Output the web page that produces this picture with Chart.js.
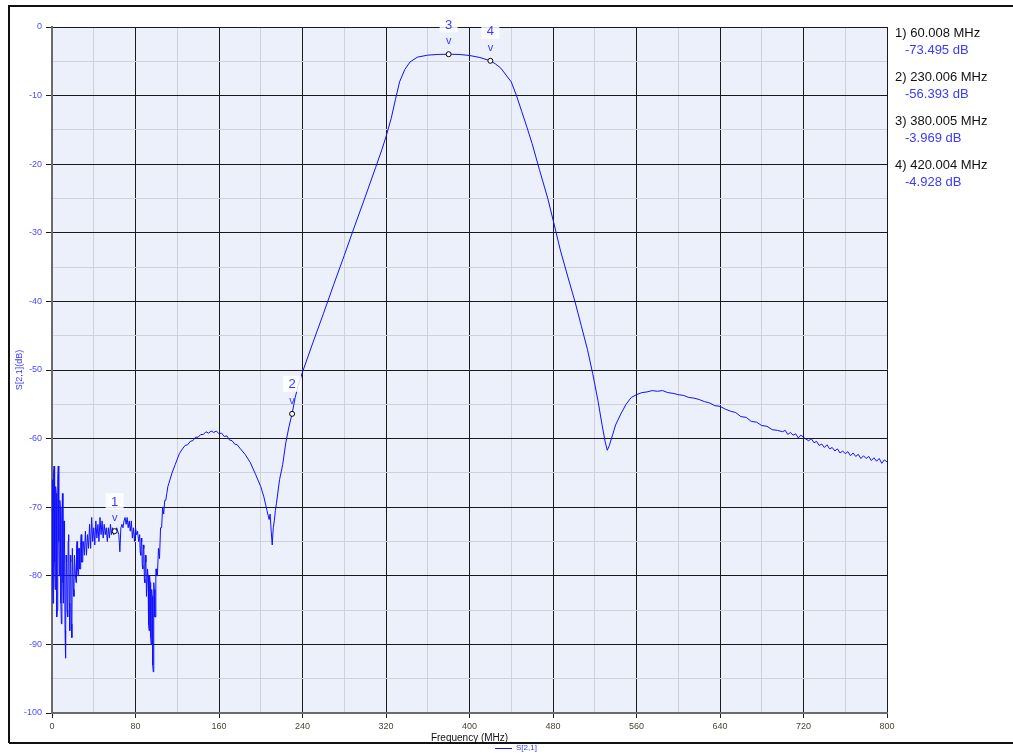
<!DOCTYPE html>
<html>
<head>
<meta charset="utf-8">
<script src="https://cdn.jsdelivr.net/npm/chart.js@4.4.1/dist/chart.umd.min.js"></script>
<style>
html,body{margin:0;padding:0;background:#fff;}
#wrap{width:1013px;height:753px;position:relative;}
</style>
</head>
<body>
<div id="wrap"><canvas id="c" width="1013" height="753"></canvas></div>
<script>
// ---- data, in frequency segments ----
// 0–30 MHz, noisy floor
const freqA = [0,0.5,1,1.5,2,2.5,3,3.5,4,4.5,5,5.5,6,6.5,7,7.5,8,8.5,9,9.5,10,10.5,11,11.5,12,12.5,13,13.5,14,14.5,
               15,15.5,16,16.5,17,17.5,18,18.5,19,19.5,20,20.5,21,21.5,22,22.5,23,23.5,24,24.5,25,25.5,26,26.5,27,27.5,28,28.5,29,29.5,30];
const dbA   = [-66,-80,-84,-65,-64,-78,-82,-67,-68,-86,-85,-66,-64,-75,-80,-69,-70,-84,-87,-72,-68,-81,-84,-72,-75,-88,-92,-77,-78,-85,
               -86,-75,-74,-84,-88,-77,-78,-87,-89,-76,-76,-82,-83,-77,-77,-80,-81,-76,-75,-79,-80,-76,-76,-79,-79,-75,-74,-78,-78,-75,-75];
// 31–83 MHz
const freqB = [31,32,33,34,35,36,37,38,39,40,41,42,43,44,45,46,47,48,49,50,51,52,53,54,55,56,57,58,59,60,
               61,62,63,64,65,66,67,68,69,70,71,72,73,74,75,76,77,78,79,80,81,82,83];
const dbB   = [-77,-73.5,-77,-74,-76,-72.5,-76,-71.5,-75,-73,-75.5,-72,-74.5,-72.5,-75,-71.5,-74,-72,-74.5,-72.5,-74,-73,-75,-73,-74.5,-72.5,-74,-73,-74,-73.5,
               -73.5,-73,-73.5,-74,-76.5,-73,-72.5,-73,-72,-71.5,-72.5,-71.5,-73,-72,-73.5,-72,-74.5,-73,-75,-73,-74,-73.5,-75];
// 84–101 MHz, first notch
const freqC = [84,84.5,85,85.5,86,86.5,87,87.5,88,88.5,89,89.5,90,90.5,91,91.5,92,92.5,93,93.5,94,94.5,95,95.5,96,96.5,97,97.5,98,98.5,99,99.5,100,100.5,101];
const dbC   = [-74,-76.5,-77,-74.5,-75,-78.5,-79,-75.5,-76,-80.5,-81,-77,-78,-83,-83,-79,-80,-87,-88,-80,-81,-89,-90,-82,-83,-93,-94,-81,-82,-86,-86,-79,-79,-80,-80];
// 102–240 MHz, lower lobe and second notch
const freqD = [102,103,104,105,106,107,108,109,110,111,112,115,118,120,122,
               125,127.5,130,132.5,135,137.5,140,142.5,145,147.5,150,152.5,155,157.5,160,162.5,165,167.5,170,172.5,175,177.5,180,
               185,190,195,200,203,206,208,209,210,211,212,213,214,215,218,221,224,227,230,233,236,240];
const dbD   = [-76,-77.5,-73,-73,-70,-71,-69,-69,-68,-67,-66.5,-65,-63.8,-63,-62.2,
               -61.5,-61.0,-60.9,-60.4,-60.3,-59.8,-59.8,-59.4,-59.4,-59.0,-59.2,-58.9,-59.1,-58.9,-59.3,-59.2,-59.7,-59.6,-60.2,-60.3,-60.8,-60.9,-61.4,
               -62.3,-63.5,-65.2,-67,-68.5,-70.5,-71.8,-71,-73.5,-75.5,-73,-72,-70.5,-69.5,-66,-63.8,-60.6,-58.3,-56.4,-54,-52.2,-50.3];
// 250–555 MHz, passband and upper notch
const freqE = [250,260,270,280,290,300,310,316,320,325,329,333,338,343,350,360,370,380,390,400,410,420,425,430,435,
               440,445,450,455,460,467,475,481,487,494,501,507,513,518,523,527,530,532,534,537,540,545,550,555];
const dbE   = [-46,-41.8,-37.5,-33.3,-29,-24.8,-20.5,-17.9,-16,-13.3,-10.6,-8,-6.2,-5.1,-4.4,-4.1,-4.0,-3.97,-4.0,-4.15,-4.45,-4.93,-5.4,-6,-7,
               -8,-10,-12.3,-14.6,-17,-20.8,-25,-28.7,-32.5,-36.3,-40,-43.5,-47,-50.5,-54.4,-58,-60.5,-61.7,-61,-59.5,-58,-56.4,-55,-54];
// 560–695 MHz, upper lobe
const freqF = [560,565,570,575,580,585,590,595,600,605,610,615,620,625,630,635,640,645,650,655,660,665,670,675,680,685,690,695];
const dbF   = [-53.6,-53.3,-53.2,-53.0,-53.1,-53.0,-53.3,-53.4,-53.6,-53.7,-54.0,-54.1,-54.3,-54.6,-54.8,-55.2,-55.3,-55.7,-56.0,-56.2,-56.8,-56.9,-57.5,-57.6,-58.1,-58.2,-58.7,-58.8];
// 700–800 MHz, noisy tail
const freqG = [700,702.5,705,707.5,710,712.5,715,717.5,720,722.5,725,727.5,730,732.5,735,737.5,740,742.5,745,747.5,
               750,752.5,755,757.5,760,762.5,765,767.5,770,772.5,775,777.5,780,782.5,785,787.5,790,792.5,795,797.5,800];
const dbG   = [-59.0,-58.8,-59.4,-59.1,-59.5,-59.3,-59.9,-59.5,-59.8,-60.1,-60.3,-60.0,-60.6,-60.4,-61.0,-60.8,-61.3,-60.9,-61.5,-61.3,
               -61.8,-61.5,-62.1,-61.8,-62.2,-61.9,-62.5,-62.1,-62.6,-62.3,-62.9,-62.5,-62.9,-62.6,-63.2,-62.8,-63.3,-62.9,-63.6,-63.1,-63.4];

const markerNum  = ['1','2','3','4'];
const markerFreq = [60.008, 230.006, 380.005, 420.004];
const markerDb   = [-73.495, -56.393, -3.969, -4.928];
const markerFreqText = ['60.008 MHz','230.006 MHz','380.005 MHz','420.004 MHz'];
const markerDbText   = ['-73.495 dB','-56.393 dB','-3.969 dB','-4.928 dB'];

const xTicksMajor = [0,80,160,240,320,400,480,560,640,720,800];
const yTicksMajor = [0,-10,-20,-30,-40,-50,-60,-70,-80,-90,-100];
const seriesName = 'S[2,1]';
const yTitle = 'S[2,1](dB)';
const xTitle = 'Frequency (MHz)';

// ---- build chart ----
const freqMHz = [...freqA,...freqB,...freqC,...freqD,...freqE,...freqF,...freqG];
const s21dB   = [...dbA,...dbB,...dbC,...dbD,...dbE,...dbF,...dbG];
const tracePts = freqMHz.map((f,i)=>({x:f,y:s21dB[i]}));
const markerPts = markerFreq.map((f,i)=>({x:f,y:markerDb[i]}));
const TRACE = '#1010ff';
const BLUE_TXT = '#3a3aff';

const decor = {
  id:'decor',
  beforeDraw(chart){
    const {ctx, chartArea:a} = chart;
    ctx.save();
    ctx.fillStyle='#ebf0fb';
    ctx.fillRect(a.left,a.top,a.right-a.left,a.bottom-a.top);
    ctx.restore();
  },
  afterDraw(chart){
    const {ctx, chartArea:a} = chart;
    const xs = chart.scales.x, ys = chart.scales.y;
    ctx.save();
    // outer frame
    ctx.strokeStyle='#111'; ctx.lineWidth=2;
    ctx.beginPath();
    ctx.moveTo(9,743); ctx.lineTo(9,6); ctx.lineTo(1013,6);
    ctx.moveTo(9,743); ctx.lineTo(1013,743);
    ctx.stroke();
    // y title
    ctx.save();
    ctx.translate(20,370); ctx.rotate(-Math.PI/2);
    ctx.fillStyle=BLUE_TXT; ctx.font='9px "Liberation Sans", Arial, sans-serif';
    ctx.textAlign='center'; ctx.textBaseline='middle';
    ctx.fillText(yTitle,0,0);
    ctx.restore();
    // x title
    ctx.fillStyle='#111'; ctx.font='10px "Liberation Sans", Arial, sans-serif';
    ctx.textAlign='center'; ctx.textBaseline='middle';
    ctx.fillText(xTitle,(a.left+a.right)/2,738);
    // bottom legend
    ctx.strokeStyle=TRACE; ctx.lineWidth=1;
    ctx.beginPath(); ctx.moveTo(495,748.5); ctx.lineTo(512,748.5); ctx.stroke();
    ctx.fillStyle=BLUE_TXT; ctx.font='8px "Liberation Sans", Arial, sans-serif';
    ctx.textAlign='left'; ctx.fillText(seriesName,516,748);
    // right marker table
    ctx.textBaseline='middle';
    for(let i=0;i<markerNum.length;i++){
      const y0 = 33 + i*44;
      ctx.fillStyle='#111'; ctx.font='13px "Liberation Sans", Arial, sans-serif';
      ctx.fillText(markerNum[i]+') '+markerFreqText[i],895,y0);
      ctx.fillStyle=BLUE_TXT;
      ctx.fillText(markerDbText[i],905,y0+17);
    }
    // marker labels
    ctx.textAlign='center';
    for(let i=0;i<markerNum.length;i++){
      const px = xs.getPixelForValue(markerFreq[i]);
      const py = ys.getPixelForValue(markerDb[i]);
      ctx.font='13px "Liberation Sans", Arial, sans-serif';
      ctx.fillStyle='rgba(255,255,255,0.85)';
      ctx.fillRect(px-9,py-38,18,16);
      ctx.fillStyle=BLUE_TXT;
      ctx.fillText(markerNum[i],px,py-29);
      ctx.font='11px "Liberation Sans", Arial, sans-serif';
      ctx.fillText('v',px,py-13);
    }
    ctx.restore();
  }
};

new Chart(document.getElementById('c'),{
  type:'line',
  data:{datasets:[
    {label:seriesName,data:tracePts,borderColor:TRACE,borderWidth:1,pointRadius:0,tension:0,order:2},
    {label:'markers',data:markerPts,showLine:false,pointRadius:2.5,pointBackgroundColor:'#fff',
     pointBorderColor:'#000',pointBorderWidth:1,order:1}
  ]},
  options:{
    responsive:false,animation:false,events:[],
    layout:{padding:{left:0,top:27,right:126,bottom:0}},
    plugins:{legend:{display:false},tooltip:{enabled:false}},
    scales:{
      x:{type:'linear',min:0,max:800,
        afterFit(s){s.height=40;},
        afterBuildTicks(s){s.ticks=[0,40,80,120,160,200,240,280,320,360,400,440,480,520,560,600,640,680,720,760,800].map(v=>({value:v}));},
        ticks:{autoSkip:false,maxRotation:0,color:'#4a4634',font:{size:9,family:'"Liberation Sans", Arial'},padding:3,
          callback:(v)=>xTicksMajor.includes(v)?String(v):''},
        grid:{color:(c)=>xTicksMajor.includes(c.tick.value)?'#1a1a1a':'#cfd2d8',
          tickColor:(c)=>xTicksMajor.includes(c.tick.value)?'#1a1a1a':'rgba(0,0,0,0)',tickLength:5,lineWidth:1},
        border:{color:'#6b6b6b',width:2}
      },
      y:{type:'linear',min:-100,max:0,
        afterFit(s){s.width=52;},
        afterBuildTicks(s){s.ticks=[-100,-95,-90,-85,-80,-75,-70,-65,-60,-55,-50,-45,-40,-35,-30,-25,-20,-15,-10,-5,0].map(v=>({value:v}));},
        ticks:{autoSkip:false,color:'#4b4bff',font:{size:9,family:'"Liberation Sans", Arial'},padding:4,
          callback:(v)=>yTicksMajor.includes(v)?String(v):''},
        grid:{color:(c)=>yTicksMajor.includes(c.tick.value)?'#1a1a1a':'#cfd2d8',
          tickColor:(c)=>yTicksMajor.includes(c.tick.value)?'#1a1a1a':'rgba(0,0,0,0)',tickLength:6,lineWidth:1},
        border:{color:'#6b6b6b',width:2}
      }
    }
  },
  plugins:[decor]
});
</script>
</body>
</html>
